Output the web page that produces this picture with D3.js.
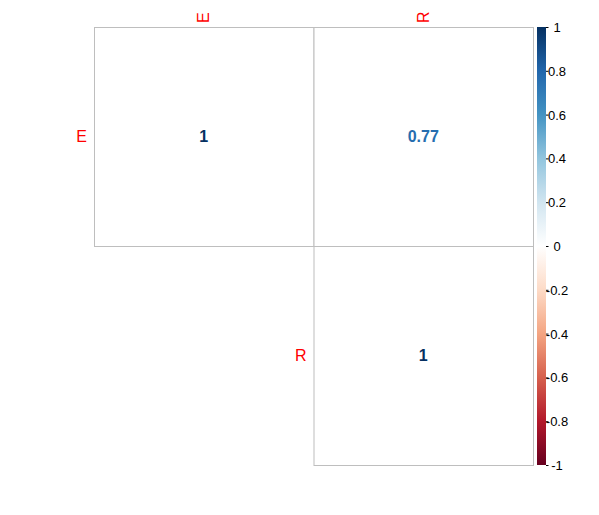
<!DOCTYPE html>
<html>
<head>
<meta charset="utf-8">
<script src="https://cdn.jsdelivr.net/npm/d3@7"></script>
<style>
  html, body { margin: 0; padding: 0; background: #fff; }
  svg { display: block; font-family: "Liberation Sans", Arial, sans-serif; }
</style>
</head>
<body>
<svg id="chart" width="599" height="515"></svg>
<script>
// ---- data ----
const variables = ["E", "R"];
const corrRows = [
  [1, 0.77],
  [0.77, 1]
];
const legendTicks = [-1, -0.8, -0.6, -0.4, -0.2, 0, 0.2, 0.4, 0.6, 0.8, 1];
const paletteColors = ["#67001F", "#B2182B", "#D6604D", "#F4A582", "#FDDBC7", "#FFFFFF",
                       "#D1E5F0", "#92C5DE", "#4393C3", "#2166AC", "#053061"];

// ---- layout ----
const svg = d3.select("#chart");
const gridLeft = 94, gridRight = 533, gridTop = 27, gridBottom = 465;

const x = d3.scaleBand().domain(variables).range([gridLeft, gridRight]);
const y = d3.scaleBand().domain(variables).range([gridTop, gridBottom]);
const color = d3.scaleLinear()
  .domain(legendTicks)
  .range(paletteColors)
  .interpolate(d3.interpolateRgb);

// cells (upper triangle incl. diagonal)
const cells = [];
variables.forEach((r, i) => variables.forEach((c, j) => {
  if (j >= i) cells.push({ row: r, col: c, value: corrRows[i][j] });
}));

svg.append("g").selectAll("rect").data(cells).join("rect")
  .attr("x", d => x(d.col) + 0.5)
  .attr("y", d => y(d.row) + 0.5)
  .attr("width", x.bandwidth())
  .attr("height", y.bandwidth())
  .attr("fill", "#fff")
  .attr("stroke", "#BEBEBE")
  .attr("stroke-width", 1);

svg.append("g").selectAll("text").data(cells).join("text")
  .attr("x", d => x(d.col) + x.bandwidth() / 2)
  .attr("y", d => y(d.row) + y.bandwidth() / 2)
  .attr("text-anchor", "middle")
  .attr("dominant-baseline", "central")
  .attr("font-size", 16)
  .attr("font-weight", "bold")
  .attr("fill", d => color(d.value))
  .text(d => String(d.value));

// top labels (rotated)
svg.append("g").selectAll("text").data(variables).join("text")
  .attr("transform", d => `translate(${x(d) + x.bandwidth() / 2},${gridTop - 4}) rotate(-90)`)
  .attr("text-anchor", "start")
  .attr("dominant-baseline", "central")
  .attr("font-size", 16)
  .attr("fill", "red")
  .text(d => d);

// left labels (placed next to the first cell in each row)
svg.append("g").selectAll("text").data(variables).join("text")
  .attr("x", (d, i) => x(variables[i]) - 7)
  .attr("y", d => y(d) + y.bandwidth() / 2)
  .attr("text-anchor", "end")
  .attr("dominant-baseline", "central")
  .attr("font-size", 16)
  .attr("fill", "red")
  .text(d => d);

// ---- colour legend ----
const legX0 = 537, legX1 = 546;
const legY = d3.scaleLinear().domain([-1, 1]).range([gridBottom, gridTop]);

const defs = svg.append("defs");
const grad = defs.append("linearGradient")
  .attr("id", "legGrad")
  .attr("x1", 0).attr("y1", 1).attr("x2", 0).attr("y2", 0);
grad.selectAll("stop").data(legendTicks).join("stop")
  .attr("offset", d => (d + 1) / 2)
  .attr("stop-color", d => color(d));

svg.append("rect")
  .attr("x", legX0)
  .attr("y", legY(1))
  .attr("width", legX1 - legX0)
  .attr("height", legY(-1) - legY(1))
  .attr("fill", "url(#legGrad)");

const axis = d3.axisRight(legY)
  .tickValues(legendTicks)
  .tickSize(2.5)
  .tickFormat(d => String(d));

const ag = svg.append("g")
  .attr("transform", `translate(${legX1},0)`)
  .call(axis);
ag.select(".domain").remove();
ag.selectAll(".tick line").attr("stroke", "#000");
ag.selectAll(".tick text")
  .attr("x", 11)
  .attr("dy", null)
  .attr("dominant-baseline", "central")
  .attr("text-anchor", "middle")
  .attr("font-size", 13)
  .attr("font-family", "\"Liberation Sans\", Arial, sans-serif")
  .attr("fill", "#000");
</script>
</body>
</html>
